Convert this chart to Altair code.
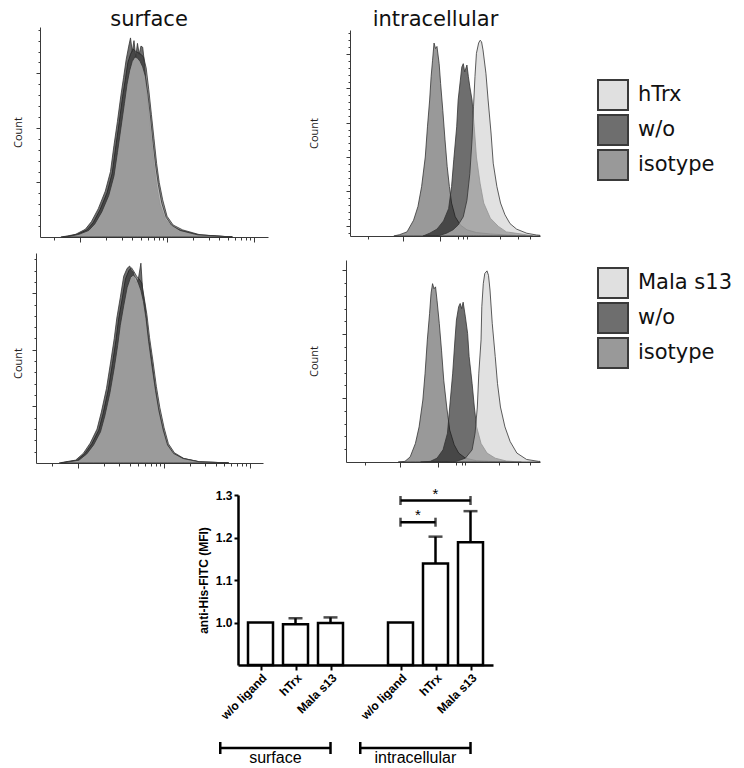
import json
import altair as alt
import pandas as pd

W, H = 728, 760

# ---------------- histogram data (x = log10 fluorescence, c = count) ----------------
# surface / hTrx row
TL_ISO_X = [0.80, 0.88, 0.97, 1.08, 1.15, 1.23, 1.31, 1.37, 1.41, 1.45, 1.49, 1.52, 1.55, 1.58, 1.61, 1.64,
            1.67, 1.70, 1.73, 1.76, 1.79, 1.82, 1.85, 1.88, 1.91, 1.95, 2.00, 2.07, 2.18, 2.38, 2.57, 2.75]
TL_ISO_C = [0, 2, 5, 13, 26, 50, 81, 117, 165, 210, 258, 288, 320, 335, 345, 340,
            338, 335, 330, 310, 270, 225, 180, 135, 100, 68, 38, 22, 13, 4, 2, 0]
TL_WO_X = [0.78, 0.86, 0.95, 1.06, 1.13, 1.21, 1.29, 1.35, 1.39, 1.43, 1.47, 1.50, 1.53, 1.56, 1.58, 1.60, 1.62, 1.64,
           1.66, 1.68, 1.70, 1.72, 1.74, 1.76, 1.79, 1.82, 1.85, 1.88, 1.92, 1.98, 2.05, 2.16, 2.36, 2.55, 2.75]
TL_WO_C = [0, 2, 5, 14, 28, 52, 84, 120, 168, 212, 260, 292, 325, 350, 365, 340, 360, 330,
           355, 335, 350, 348, 320, 280, 230, 180, 135, 95, 60, 33, 20, 12, 4, 2, 0]
TL_HTRX_X = [0.82, 0.90, 0.99, 1.10, 1.17, 1.25, 1.33, 1.39, 1.43, 1.47, 1.51, 1.54, 1.57, 1.60, 1.63, 1.66,
             1.69, 1.72, 1.75, 1.78, 1.81, 1.84, 1.87, 1.90, 1.94, 1.99, 2.05, 2.15, 2.35, 2.55, 2.75]
TL_HTRX_C = [0, 2, 5, 12, 24, 46, 76, 112, 155, 200, 245, 280, 305, 322, 330, 328,
             322, 312, 295, 262, 220, 172, 130, 96, 62, 36, 22, 12, 4, 2, 0]

# intracellular / hTrx row
TR_ISO_X = [1.10, 1.18, 1.28, 1.37, 1.43, 1.48, 1.53, 1.56, 1.59, 1.61, 1.63, 1.65, 1.67, 1.69,
            1.72, 1.74, 1.77, 1.80, 1.83, 1.86, 1.89, 1.94, 2.01, 2.10, 2.23, 2.42, 2.64, 2.90]
TR_ISO_C = [0, 2, 6, 23, 43, 72, 115, 159, 198, 232, 256, 281, 273, 276,
            251, 222, 183, 140, 101, 72, 48, 28, 16, 9, 5, 3, 1.5, 0]
TR_WO_X = [1.50, 1.59, 1.69, 1.78, 1.85, 1.89, 1.92, 1.96, 1.98, 2.01, 2.03, 2.05, 2.07,
           2.10, 2.12, 2.14, 2.17, 2.20, 2.23, 2.28, 2.33, 2.42, 2.53, 2.64, 2.87, 3.00]
TR_WO_C = [0, 4, 10, 22, 40, 72, 111, 159, 198, 227, 246, 251, 239,
           249, 232, 217, 198, 159, 115, 77, 48, 26, 14, 6, 2.5, 0]
TR_HTRX_X = [1.70, 1.82, 1.91, 1.98, 2.05, 2.10, 2.14, 2.17, 2.19, 2.21, 2.23, 2.26, 2.28, 2.30,
             2.32, 2.36, 2.39, 2.43, 2.46, 2.51, 2.56, 2.62, 2.69, 2.78, 2.92, 3.05, 3.10]
TR_HTRX_C = [0, 4, 9, 16, 28, 52, 91, 140, 188, 232, 266, 281, 285, 283,
             271, 237, 198, 150, 106, 72, 48, 31, 18, 10, 4, 1.5, 1]

# surface / Mala s13 row
BL_ISO_X = [0.80, 0.87, 0.99, 1.08, 1.16, 1.24, 1.29, 1.35, 1.40, 1.44, 1.47, 1.51, 1.55, 1.59, 1.62, 1.65,
            1.68, 1.71, 1.74, 1.77, 1.80, 1.83, 1.87, 1.91, 1.95, 2.00, 2.05, 2.12, 2.23, 2.42, 2.61, 2.75]
BL_ISO_C = [0, 2, 5, 17, 34, 58, 87, 129, 176, 217, 253, 288, 325, 340, 345, 338,
            330, 325, 318, 290, 262, 222, 180, 135, 98, 62, 34, 18, 8, 2, 1, 0]
BL_WO_X = [0.78, 0.85, 0.97, 1.06, 1.14, 1.22, 1.27, 1.33, 1.38, 1.42, 1.45, 1.49, 1.53, 1.57, 1.60, 1.62, 1.64,
           1.67, 1.70, 1.73, 1.75, 1.78, 1.81, 1.85, 1.89, 1.93, 1.98, 2.03, 2.10, 2.22, 2.41, 2.60, 2.75]
BL_WO_C = [0, 2, 5, 17, 35, 60, 90, 132, 180, 220, 256, 292, 330, 344, 348, 340, 338,
           318, 325, 353, 306, 276, 229, 188, 141, 99, 64, 34, 17, 8, 2, 1, 0]
BL_MALA_X = [0.82, 0.89, 1.01, 1.10, 1.18, 1.26, 1.31, 1.37, 1.42, 1.46, 1.49, 1.53, 1.57, 1.61, 1.64, 1.67,
             1.70, 1.73, 1.76, 1.79, 1.82, 1.86, 1.90, 1.94, 1.99, 2.04, 2.11, 2.22, 2.41, 2.60, 2.75]
BL_MALA_C = [0, 2, 5, 16, 32, 55, 83, 124, 168, 208, 243, 278, 310, 328, 332, 328,
             318, 305, 285, 255, 215, 170, 128, 92, 58, 32, 17, 8, 2, 1, 0]

# intracellular / Mala s13 row
BR_ISO_X = [1.20, 1.29, 1.36, 1.43, 1.48, 1.53, 1.56, 1.59, 1.62, 1.64, 1.66, 1.68, 1.70,
            1.72, 1.75, 1.78, 1.81, 1.85, 1.89, 1.95, 2.01, 2.10, 2.25, 2.52, 2.75]
BR_ISO_C = [0, 1, 8, 29, 55, 97, 139, 191, 232, 264, 279, 271, 274,
            253, 217, 175, 128, 86, 50, 27, 14, 6, 2, 0.5, 0]
BR_WO_X = [1.50, 1.63, 1.72, 1.80, 1.86, 1.89, 1.93, 1.96, 1.98, 2.01, 2.03, 2.05,
           2.07, 2.10, 2.13, 2.15, 2.19, 2.22, 2.25, 2.31, 2.39, 2.50, 2.65, 2.85]
BR_WO_C = [0, 1, 6, 19, 45, 86, 139, 191, 222, 243, 248, 240,
           250, 227, 201, 165, 123, 86, 55, 29, 14, 6, 1.5, 0]
BR_MALA_X = [1.85, 1.98, 2.10, 2.19, 2.23, 2.26, 2.28, 2.31, 2.32, 2.34, 2.36, 2.39,
             2.41, 2.43, 2.46, 2.50, 2.53, 2.57, 2.63, 2.70, 2.79, 2.92, 3.08, 3.10]
BR_MALA_C = [0, 1, 6, 19, 45, 86, 139, 191, 243, 279, 295, 299,
             292, 269, 217, 165, 123, 86, 55, 32, 14, 4, 1, 1]

# axis tick values
LOG_TICKS = [0.699, 1, 1.301, 1.477, 1.602, 1.699, 1.778, 1.845, 1.903, 1.954,
             2, 2.301, 2.477, 2.602, 2.699, 2.778, 2.845, 2.903, 2.954, 3]
LOG_MAJOR = [1, 2, 3]
INTRA_TICKS = [0.75, 1.22, 1.73, 1.98, 2.05, 2.10, 2.55, 2.80, 2.96]
INTRA_MAJOR = [1.22, 1.73]
COUNT_TICKS_A = list(range(20, 385, 20))
COUNT_MAJOR_A = [100, 200, 300]
COUNT_TICKS_TR = list(range(5, 300, 10))
COUNT_MAJOR_TR = [15, 65, 115, 165, 215, 265]

LEGEND_TOP = ["hTrx", "w/o", "isotype"]
LEGEND_BOTTOM = ["Mala s13", "w/o", "isotype"]
LEGEND_COLORS = ["#e0e0e0", "#6e6e6e", "#999999"]

ROLE_FILL = {"isotype": "#999999", "w/o": "#161616", "ligand": "#cecece"}
ROLE_OPACITY = {"isotype": 1.0, "w/o": 0.625, "ligand": 0.62}

# ---------------- bar chart data ----------------
BAR_POS = [0, 1, 2, 4, 5, 6]
BAR_LABELS = ["w/o ligand", "hTrx", "Mala s13", "w/o ligand", "hTrx", "Mala s13"]
BAR_MEAN = [1.0, 0.996, 0.999, 1.0, 1.139, 1.189]
BAR_UPPER = [1.0, 1.010, 1.012, 1.0, 1.202, 1.262]
SIG_X1 = [4, 4]
SIG_X2 = [6, 5]
SIG_Y = [1.287, 1.236]
SIG_TEXT = ["*", "*"]
GROUP_NAMES = ["surface", "intracellular"]
GROUP_X1 = [-1.15, 2.85]
GROUP_X2 = [2.0, 6.0]


def cond_tick(majors, big, small):
    return {"condition": {"test": "indexof(%s, datum.value) >= 0" % json.dumps(majors), "value": big},
            "value": small}


def hist_panel(curves, xdom, ydom, xrng, yrng, xticks, xmajors, yticks, ymajors,
               title, title_cx, count_cx, count_cy, legend_names=None, legend_xy=None):
    x_axis_y = yrng[0]
    y_axis_x = xrng[0]
    xaxis = alt.Axis(orient="bottom", offset=x_axis_y - H, values=xticks, labels=False, grid=False,
                     domainColor="#3a3a3a", domainWidth=1, tickColor="#3a3a3a", tickWidth=1,
                     tickSize=cond_tick(xmajors, 5, 3),
                     title=title, titleFont="DejaVu Sans", titleFontSize=21, titleFontWeight="normal",
                     titleColor="#111111", titleX=title_cx, titleY=17 - x_axis_y,
                     titleAlign="center", titleBaseline="alphabetic")
    yaxis = alt.Axis(orient="left", offset=-y_axis_x, values=yticks, labels=False, grid=False,
                     domainColor="#3a3a3a", domainWidth=1, tickColor="#3a3a3a", tickWidth=1,
                     tickSize=cond_tick(ymajors, 4, 2),
                     title="Count", titleFont="Open Sans", titleFontSize=11, titleFontWeight="normal",
                     titleColor="#222222", titleAngle=-90, titleX=count_cx - y_axis_x, titleY=count_cy,
                     titleAlign="center", titleBaseline="middle")
    xs = alt.Scale(domain=xdom, range=xrng, nice=False, zero=False)
    ys = alt.Scale(domain=ydom, range=yrng, nice=False, zero=False)
    layers = []
    for role, vx, vc in curves:
        df = pd.DataFrame({"v": vx, "c": vc})
        layers.append(
            alt.Chart(df).mark_area(fill=ROLE_FILL[role], fillOpacity=ROLE_OPACITY[role],
                                    stroke="#333333", strokeWidth=0.8, strokeJoin="round").encode(
                x=alt.X("v:Q", scale=xs, axis=xaxis),
                y=alt.Y("c:Q", stack=None, scale=ys, axis=yaxis),
            )
        )
    if legend_names:
        ldf = pd.DataFrame({"s": legend_names})
        layers.append(
            alt.Chart(ldf).mark_square(opacity=0, size=1).encode(
                x=alt.value(0), y=alt.value(0),
                color=alt.Color("s:N", scale=alt.Scale(domain=legend_names, range=LEGEND_COLORS),
                                legend=alt.Legend(title=None, orient="none", legendX=legend_xy[0],
                                                  legendY=legend_xy[1], symbolType="square", symbolSize=900,
                                                  symbolStrokeColor="#3a3a3a", symbolStrokeWidth=2,
                                                  symbolOpacity=1, labelFont="DejaVu Sans", labelFontSize=21,
                                                  labelColor="#111111", labelOffset=9, rowPadding=-4,
                                                  padding=0, labelLimit=300)),
            )
        )
    return alt.layer(*layers)


tl = hist_panel([("isotype", TL_ISO_X, TL_ISO_C), ("w/o", TL_WO_X, TL_WO_C), ("ligand", TL_HTRX_X, TL_HTRX_C)],
                [0.54, 3.16], [0, 385], [32, 260], [229, 19], LOG_TICKS, LOG_MAJOR,
                COUNT_TICKS_A, COUNT_MAJOR_A, "surface", 140.5, 10, 124)
tr = hist_panel([("isotype", TR_ISO_X, TR_ISO_C), ("w/o", TR_WO_X, TR_WO_C), ("ligand", TR_HTRX_X, TR_HTRX_C)],
                [0.5, 3.1], [0, 300], [342, 532], [228, 22], INTRA_TICKS, INTRA_MAJOR,
                COUNT_TICKS_TR, COUNT_MAJOR_TR, "intracellular", 427, 306, 125,
                LEGEND_TOP, (589, 71))
bl = hist_panel([("isotype", BL_ISO_X, BL_ISO_C), ("w/o", BL_WO_X, BL_WO_C), ("ligand", BL_MALA_X, BL_MALA_C)],
                [0.51, 3.15], [0, 371], [28, 255], [455, 245], LOG_TICKS, LOG_MAJOR,
                list(range(20, 371, 20)), COUNT_MAJOR_A, "", 140, 10, 355)
br = hist_panel([("isotype", BR_ISO_X, BR_ISO_C), ("w/o", BR_WO_X, BR_WO_C), ("ligand", BR_MALA_X, BR_MALA_C)],
                [0.5, 3.1], [0, 316], [338, 532], [454, 252], INTRA_TICKS, INTRA_MAJOR,
                list(range(20, 316, 20)), COUNT_MAJOR_A, "", 430, 306, 353,
                LEGEND_BOTTOM, (589, 259))

# ---------------- bar chart ----------------
bar_df = pd.DataFrame({"pos": BAR_POS, "label": BAR_LABELS, "mean": BAR_MEAN, "upper": BAR_UPPER})
err_df = bar_df[bar_df["upper"] > bar_df["mean"]]
label_list = [""] * 7
for p, lab in zip(BAR_POS, BAR_LABELS):
    label_list[p] = lab
label_expr = "%s[datum.value]" % json.dumps(label_list)

bxs = alt.Scale(domain=[-0.5, 6.5], range=[230, 485], nice=False, zero=False)
bys = alt.Scale(domain=[0.9, 1.3], range=[657, 487], nice=False, zero=False)

bar_xaxis = alt.Axis(orient="bottom", offset=657 - H, values=BAR_POS, labelExpr=label_expr, labelAngle=-45,
                     labelOverlap=False, labelBound=False, labelFlush=False,
                     labelFont="Liberation Sans", labelFontSize=12, labelFontWeight="bold", labelColor="black",
                     labelPadding=2, tickSize=5, tickWidth=2, tickColor="black", domainColor="black",
                     domainWidth=2.5, grid=False, title=None)
bar_yaxis = alt.Axis(orient="left", offset=-230, values=[1.0, 1.1, 1.2, 1.3], format=".1f",
                     labelFont="Liberation Sans", labelFontSize=12, labelFontWeight="bold", labelColor="black",
                     labelPadding=2, tickSize=4, tickWidth=2, tickColor="black", domainColor="black",
                     domainWidth=2.5, grid=False, title="anti-His-FITC (MFI)", titleFont="Liberation Sans",
                     titleFontSize=12, titleFontWeight="bold", titleColor="black", titlePadding=5)

BX = dict(scale=bxs, axis=bar_xaxis)
BY = dict(scale=bys, axis=bar_yaxis)

bars = alt.Chart(bar_df).mark_bar(size=25, fill="white", stroke="black", strokeWidth=2.5).encode(
    x=alt.X("pos:Q", **BX),
    y=alt.Y("mean:Q", **BY),
    y2=alt.datum(0.9),
)
err_rule = alt.Chart(err_df).mark_rule(color="black", strokeWidth=2.5).encode(
    x=alt.X("pos:Q", **BX),
    y=alt.Y("mean:Q", **BY),
    y2="upper:Q",
)
err_cap = alt.Chart(err_df).mark_tick(orient="horizontal", size=14, thickness=2.5, color="black").encode(
    x=alt.X("pos:Q", **BX),
    y=alt.Y("upper:Q", **BY),
)

sig_df = pd.DataFrame({"x1": SIG_X1, "x2": SIG_X2, "y": SIG_Y, "txt": SIG_TEXT})
sig_df["mid"] = (sig_df["x1"] + sig_df["x2"]) / 2
sig_ends = pd.DataFrame({"x": SIG_X1 + SIG_X2, "y": SIG_Y + SIG_Y})
sig_line = alt.Chart(sig_df).mark_rule(color="black", strokeWidth=2.5).encode(
    x=alt.X("x1:Q", **BX), x2="x2:Q",
    y=alt.Y("y:Q", **BY),
)
sig_cap = alt.Chart(sig_ends).mark_tick(orient="vertical", size=9, thickness=2.5, color="black").encode(
    x=alt.X("x:Q", **BX),
    y=alt.Y("y:Q", **BY),
)
sig_star = alt.Chart(sig_df).mark_text(font="Liberation Sans", fontSize=15, baseline="alphabetic", dy=-2,
                                       color="black").encode(
    x=alt.X("mid:Q", **BX),
    y=alt.Y("y:Q", **BY),
    text="txt:N",
)

grp_df = pd.DataFrame({"name": GROUP_NAMES, "x1": GROUP_X1, "x2": GROUP_X2})
grp_df["mid"] = (grp_df["x1"] + grp_df["x2"]) / 2
grp_ends = pd.DataFrame({"x": GROUP_X1 + GROUP_X2})
grp_line = alt.Chart(grp_df).mark_rule(color="black", strokeWidth=2.5).encode(
    x=alt.X("x1:Q", **BX), x2="x2:Q", y=alt.value(740),
)
grp_cap = alt.Chart(grp_ends).mark_rule(color="black", strokeWidth=2.5).encode(
    x=alt.X("x:Q", **BX), y=alt.value(734), y2=alt.value(746),
)
grp_text = alt.Chart(grp_df).mark_text(font="Liberation Sans", fontSize=16, baseline="alphabetic",
                                       color="black").encode(
    x=alt.X("mid:Q", **BX), y=alt.value(755), text="name:N",
)

bar_panel = alt.layer(bars, err_rule, err_cap, sig_line, sig_cap, sig_star, grp_line, grp_cap, grp_text)

chart = alt.layer(tl, tr, bl, br, bar_panel).resolve_scale(
    x="independent", y="independent", color="independent"
).resolve_axis(
    x="independent", y="independent"
).resolve_legend(
    color="independent"
).properties(
    width=W, height=H, autosize=alt.AutoSizeParams(type="none"), padding=0
).configure_view(stroke=None)

chart.save("out.html", embed_options={"renderer": "svg", "actions": False})
